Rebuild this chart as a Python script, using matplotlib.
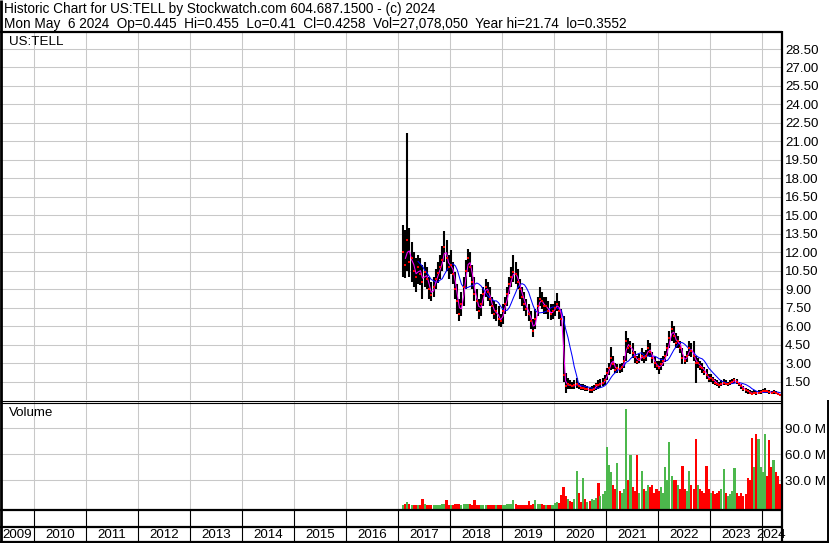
import numpy as np
import pandas as pd
import matplotlib
matplotlib.use("Agg")
import matplotlib.pyplot as plt

plt.rcParams['font.family'] = ['Liberation Sans', 'DejaVu Sans']

# half-monthly bars for US:TELL, Feb 2017 .. May 2024 (prices in $, volume in millions)
close_2017 = [12.0, 11.0, 13.0, 11.2, 11.5, 10.5, 10.0, 10.8, 10.2, 9.6, 10.4, 9.8, 9.0, 8.5, 9.2, 9.8, 10.3, 10.8, 11.4, 12.4, 11.5, 10.8]
high_2017 = [14.2, 13.8, 21.7, 14.0, 12.8, 12.0, 11.5, 11.8, 11.5, 11.0, 11.2, 10.8, 10.0, 9.6, 10.0, 10.6, 11.2, 11.8, 12.5, 13.7, 13.0, 11.8]
low_2017 = [10.0, 9.9, 10.5, 10.0, 9.6, 9.2, 8.8, 9.4, 9.3, 8.2, 9.2, 9.0, 8.2, 8.0, 8.4, 9.0, 9.5, 9.8, 10.5, 11.2, 10.5, 9.8]
vol_2017 = [2, 3, 5, 3, 2, 2, 2, 2, 2, 8, 3, 2, 2, 2, 2, 2, 2, 2, 3, 3, 7, 2]

close_2018 = [11.0, 10.2, 9.0, 8.0, 7.0, 7.8, 9.2, 10.5, 11.5, 10.8, 9.6, 8.6, 8.0, 7.2, 7.8, 8.6, 9.2, 8.8, 8.2, 7.6, 7.0, 7.2, 6.6, 6.4]
high_2018 = [12.2, 11.2, 10.4, 9.4, 8.2, 8.8, 10.0, 11.4, 12.3, 12.0, 11.0, 10.0, 9.0, 8.2, 8.6, 9.2, 9.8, 9.6, 9.2, 8.4, 8.0, 7.8, 7.6, 7.0]
low_2018 = [10.2, 9.4, 8.2, 7.0, 6.4, 6.8, 7.6, 9.0, 10.4, 10.0, 9.0, 8.0, 7.2, 6.6, 6.8, 7.6, 8.4, 8.0, 7.6, 7.0, 6.6, 6.4, 6.0, 5.9]
vol_2018 = [2, 2, 3, 3, 3, 2, 3, 3, 3, 3, 2, 7, 2, 2, 2, 2, 2, 2, 2, 2, 2, 2, 2, 2]

close_2019 = [7.2, 7.8, 8.6, 9.4, 10.0, 10.4, 10.2, 9.6, 9.0, 8.4, 7.8, 7.4, 7.0, 6.4, 5.6, 6.6, 7.6, 8.2, 8.0, 7.6, 7.6, 7.2, 7.0, 7.2]
high_2019 = [7.8, 8.4, 9.2, 10.0, 10.8, 11.8, 11.2, 10.6, 9.8, 9.2, 8.8, 8.2, 7.8, 7.2, 6.6, 7.4, 8.4, 9.2, 8.8, 8.4, 8.4, 8.0, 7.8, 7.8]
low_2019 = [6.2, 7.0, 7.6, 8.6, 9.2, 9.6, 9.4, 9.0, 8.2, 7.6, 7.2, 6.8, 6.4, 5.8, 5.1, 5.8, 6.8, 7.6, 7.4, 7.0, 7.0, 6.6, 6.5, 6.6]
vol_2019 = [2, 2, 3, 3, 3, 7, 3, 2, 2, 2, 2, 2, 6, 2, 3, 7, 3, 3, 3, 2, 2, 2, 2, 2]

close_2020 = [7.5, 7.8, 7.2, 6.6, 2.0, 1.1, 1.3, 1.2, 1.1, 1.2, 1.3, 1.1, 1.0, 1.0, 0.9, 0.9, 0.8, 0.8, 0.9, 1.25, 1.2, 1.3, 1.4, 1.6]
high_2020 = [8.0, 8.7, 8.0, 7.4, 6.8, 2.2, 1.8, 1.6, 1.5, 1.6, 1.8, 1.4, 1.3, 1.3, 1.2, 1.1, 1.0, 1.1, 1.2, 1.4, 1.6, 1.7, 1.8, 2.0]
low_2020 = [6.8, 7.2, 6.6, 6.0, 1.5, 0.6, 0.9, 0.9, 0.9, 0.9, 1.0, 0.9, 0.8, 0.8, 0.7, 0.7, 0.6, 0.6, 0.7, 0.8, 0.9, 1.0, 1.1, 1.2]
vol_2020 = [4, 5, 4, 13, 22, 12, 8, 6, 5, 8, 41, 15, 5, 33, 9, 5, 6, 8, 7, 10, 27, 12, 14, 18]

close_2021 = [2.2, 2.6, 3.4, 2.9, 2.4, 2.6, 2.5, 2.7, 3.2, 4.8, 4.2, 4.4, 3.8, 3.5, 3.1, 3.3, 3.6, 3.4, 3.6, 4.2, 3.9, 3.4, 3.0, 2.8]
high_2021 = [2.6, 3.0, 4.3, 3.6, 3.0, 2.9, 2.9, 3.0, 3.6, 5.6, 5.0, 4.8, 4.6, 4.0, 3.6, 3.7, 4.2, 3.9, 4.1, 4.9, 4.6, 3.9, 3.5, 3.2]
low_2021 = [1.6, 2.0, 2.4, 2.5, 2.2, 2.2, 2.2, 2.3, 2.6, 3.2, 3.8, 3.7, 3.4, 3.0, 2.9, 3.0, 3.2, 3.0, 3.2, 3.6, 3.5, 3.0, 2.6, 2.4]
vol_2021 = [69, 48, 40, 25, 20, 50, 18, 15, 20, 112, 30, 59, 22, 18, 59, 15, 41, 20, 18, 25, 22, 25, 15, 20]

close_2022 = [2.6, 2.9, 3.2, 3.6, 4.2, 5.0, 5.8, 5.2, 4.6, 4.8, 4.2, 3.4, 3.2, 3.6, 4.2, 4.0, 3.6, 3.0, 3.0, 2.7, 2.6, 2.3, 2.0, 1.7]
high_2022 = [3.2, 3.4, 3.6, 4.0, 4.6, 5.6, 6.4, 6.0, 5.4, 5.2, 4.8, 4.2, 3.6, 4.0, 4.8, 4.6, 4.8, 3.6, 3.4, 3.2, 3.0, 2.7, 2.5, 2.1]
low_2022 = [2.1, 2.4, 2.8, 3.1, 3.6, 4.2, 4.8, 4.6, 4.2, 4.2, 3.8, 2.9, 2.9, 3.1, 3.6, 3.5, 3.2, 1.4, 2.6, 2.4, 2.2, 2.0, 1.7, 1.5]
vol_2022 = [18, 22, 15, 45, 30, 74, 35, 30, 30, 25, 20, 47, 20, 18, 41, 25, 20, 78, 25, 20, 18, 15, 46, 20]

close_2023 = [1.8, 1.6, 1.4, 1.3, 1.2, 1.3, 1.4, 1.3, 1.3, 1.4, 1.5, 1.6, 1.5, 1.3, 1.1, 0.9, 0.8, 0.7, 0.6, 0.5, 0.6, 0.55, 0.6, 0.65]
high_2023 = [2.1, 1.9, 1.7, 1.6, 1.5, 1.6, 1.7, 1.6, 1.5, 1.6, 1.7, 1.8, 1.7, 1.5, 1.3, 1.1, 1.0, 0.9, 0.8, 0.7, 0.8, 0.7, 0.8, 0.8]
low_2023 = [1.5, 1.3, 1.2, 1.1, 1.0, 1.1, 1.2, 1.2, 1.1, 1.2, 1.3, 1.4, 1.3, 1.1, 0.9, 0.7, 0.6, 0.5, 0.5, 0.4, 0.45, 0.4, 0.45, 0.5]
vol_2023 = [15, 18, 14, 15, 18, 20, 43, 15, 12, 14, 18, 44, 15, 12, 15, 12, 14, 33, 30, 79, 45, 84, 78, 45]

close_2024 = [0.7, 0.75, 0.7, 0.62, 0.6, 0.65, 0.55, 0.48, 0.43]
high_2024 = [0.9, 0.95, 0.85, 0.8, 0.75, 0.8, 0.7, 0.6, 0.46]
low_2024 = [0.55, 0.6, 0.55, 0.5, 0.45, 0.5, 0.45, 0.4, 0.36]
vol_2024 = [40, 84, 35, 77, 45, 54, 40, 35, 26]

price_ticks = [1.5, 3.0, 4.5, 6.0, 7.5, 9.0, 10.5, 12.0, 13.5, 15.0, 16.5, 18.0, 19.5,
               21.0, 22.5, 24.0, 25.5, 27.0, 28.5]
vol_ticks = [30, 60, 90]
vol_tick_labels = ['30.0 M', '60.0 M', '90.0 M']
years = list(range(2009, 2025))

header1 = "Historic Chart for US:TELL by Stockwatch.com 604.687.1500 - (c) 2024"
header2 = ("Mon May  6 2024  Op=0.445  Hi=0.455  Lo=0.41  Cl=0.4258  "
           "Vol=27,078,050  Year hi=21.74  lo=0.3552")

close = close_2017 + close_2018 + close_2019 + close_2020 + close_2021 + close_2022 + close_2023 + close_2024
high = high_2017 + high_2018 + high_2019 + high_2020 + high_2021 + high_2022 + high_2023 + high_2024
low = low_2017 + low_2018 + low_2019 + low_2020 + low_2021 + low_2022 + low_2023 + low_2024
volume = vol_2017 + vol_2018 + vol_2019 + vol_2020 + vol_2021 + vol_2022 + vol_2023 + vol_2024

df = pd.DataFrame({'close': close, 'high': high, 'low': low, 'volume': volume})
df['date'] = pd.date_range('2017-02-01', periods=len(df), freq='SMS') + pd.Timedelta(days=7)
df['t'] = df['date'].dt.year + (df['date'].dt.dayofyear - 1) / 365.25
df['ma_short'] = df['close'].rolling(2).mean()
df['ma_long'] = df['close'].rolling(8).mean()
df['up'] = df['close'].diff().fillna(0) >= 0

# page layout in pixels
W, H = 830, 543
X2010, PX_YEAR = 34, 52
RIGHT = 781
t_left = 2010 - X2010 / PX_YEAR
t_right = 2010 + (RIGHT - X2010) / PX_YEAR
FS = 9.6
GRID = '#c8c8c8'


def rect(x0, y0, x1, y1):
    return [x0 / W, 1 - y1 / H, (x1 - x0) / W, (y1 - y0) / H]


def bare(ax):
    for s in ax.spines.values():
        s.set_visible(False)
    ax.set_xlim(t_left, t_right)
    ax.set_xticks(years[1:])
    ax.tick_params(axis='x', length=0, labelbottom=False)


fig = plt.figure(figsize=(W / 100, H / 100), dpi=100)

# price panel
ax = fig.add_axes(rect(0, 33, RIGHT, 400))
bare(ax)
ax.set_ylim(0, 29.8)
ax.grid(True, color=GRID, lw=0.75)
ax.set_axisbelow(True)
ax.yaxis.tick_right()
ax.set_yticks(price_ticks)
ax.set_yticklabels(['%.2f' % v for v in price_ticks])
ax.tick_params(axis='y', length=0, pad=3, labelsize=FS)
ax.vlines(df['t'], df['low'], df['high'], color='black', lw=1.5)
ax.plot(df['t'], df['ma_long'], color='#0000ff', lw=0.75)
ax.plot(df['t'], df['ma_short'], color='#ff00ff', lw=0.75)
ax.plot(df['t'], df['close'], ls='none', marker='s', ms=1.8, mew=0, color='red')

# volume panel
vol_floor = -3.1
av = fig.add_axes(rect(0, 402, RIGHT, 509))
bare(av)
av.set_ylim(vol_floor, 120.4)
av.grid(True, color=GRID, lw=0.75)
av.set_axisbelow(True)
av.yaxis.tick_right()
av.set_yticks(vol_ticks)
av.set_yticklabels(vol_tick_labels)
av.tick_params(axis='y', length=0, pad=3, labelsize=FS)
colors = np.where(df['up'], '#4cb84c', '#ff0000')
av.bar(df['t'], df['volume'] - vol_floor, bottom=vol_floor, width=1 / 24,
       color=colors, linewidth=0)

# empty row and year row
ar = fig.add_axes(rect(0, 509, RIGHT, 527))
bare(ar)
ar.set_yticks([])
ay = fig.add_axes(rect(0, 527, RIGHT, 542))
bare(ay)
ay.set_yticks([])
for a in (ar, ay):
    for y in years[1:]:
        a.axvline(y, color='black', lw=0.8)
for y in years:
    c = (max(y, t_left) + min(y + 1, t_right)) / 2
    ay.text(c, 0.45, str(y), ha='center', va='center', fontsize=FS,
            transform=ay.get_xaxis_transform())

# frame lines and texts, in pixel coordinates
ov = fig.add_axes([0, 0, 1, 1])
ov.set_xlim(0, W)
ov.set_ylim(H, 0)
ov.axis('off')
ov.patch.set_alpha(0)
k = dict(color='black', solid_capstyle='butt')
ov.plot([1, 1], [0, H], lw=2.0, **k)
ov.plot([0, RIGHT + 1], [32, 32], lw=1.6, **k)
ov.plot([RIGHT + 0.5, RIGHT + 0.5], [31, H], lw=1.6, **k)
ov.plot([0, RIGHT + 1], [400.5, 400.5], lw=0.8, **k)
ov.plot([0, RIGHT + 1], [402.5, 402.5], lw=0.8, **k)
ov.plot([0, RIGHT + 1], [509.5, 509.5], lw=1.6, **k)
ov.plot([0, RIGHT + 1], [527, 527], lw=1.6, **k)
ov.plot([0, 829], [541.8, 541.8], lw=1.6, **k)
ov.plot([827.5, 827.5], [400, H], lw=1.4, **k)

ov.text(4, 9, header1, va='center', ha='left', fontsize=9.8)
ov.text(4, 24, header2, va='center', ha='left', fontsize=9.8)
ov.text(9, 42, "US:TELL", va='center', ha='left', fontsize=FS)
ov.text(9, 413, "Volume", va='center', ha='left', fontsize=FS)

fig.savefig('out.png', dpi=100)
